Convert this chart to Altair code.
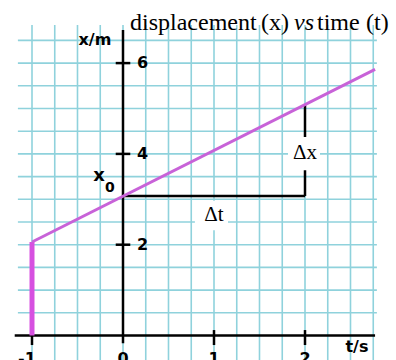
import altair as alt
import pandas as pd

# Axis ticks and labels
t_ticks = [-1, 1, 2]
t_labels = ["-1", "0", "1", "2"]
t_label_pos = [-1.055, 0.0, 1.0, 2.0]
x_ticks = [2, 4, 6]
x_labels = ["2", "4", "6"]

# Graph-paper grid: vertical lines every 0.25 s, horizontal every 0.5 m
grid_t = [-1.0, -0.75, -0.5, -0.25, 0.0, 0.25, 0.5, 0.75,
          1.0, 1.25, 1.5, 1.75, 2.0, 2.25, 2.5, 2.75]
grid_x = [0.5, 1.0, 1.5, 2.0, 2.5, 3.0, 3.5, 4.0, 4.5, 5.0, 5.5, 6.0, 6.5]

# Motion: jump to x = 2.06 m at t = -1 s, then uniform motion
jump_t = [-1.0, -1.0]
jump_x = [0.0, 2.06]
path_t = [-1.0, 2.77]
path_x = [2.06, 5.86]

# Slope triangle between t = 0 s and t = 2 s
delta_t = [0.0, 2.0]
delta_x = [3.07, 5.08]

# Title pieces (upright / italic) and their left edges along t
title_words = ["displacement", "(x)", "vs", "time", "(t)"]
title_italic = [False, False, True, False, False]
title_left = [0.077, 1.516, 1.879, 2.132, 2.670]

GRID = "#8fd2dc"
PINK = "#c862d8"
PINK2 = "#d650e0"
INK = "#000000"

X = alt.Scale(domain=[-123 / 91, 273 / 91], nice=False, zero=False)
Y = alt.Scale(domain=[-24.5 / 45.4, 335.5 / 45.4], nice=False, zero=False)


def seg(df, color, width):
    return alt.Chart(df).mark_rule(color=color, strokeWidth=width).encode(
        x=alt.X("t1:Q", scale=X, axis=None),
        x2="t2:Q",
        y=alt.Y("y1:Q", scale=Y, axis=None),
        y2="y2:Q",
    )


def label(df, text_col, font, size, weight="normal", style="normal",
          align="center", baseline="middle", dx=0):
    return alt.Chart(df).mark_text(
        font=font, fontSize=size, fontWeight=weight, fontStyle=style,
        align=align, baseline=baseline, color=INK, dx=dx,
    ).encode(
        x=alt.X("t:Q", scale=X, axis=None),
        y=alt.Y("y:Q", scale=Y, axis=None),
        text=f"{text_col}:N",
    )


vgrid = pd.DataFrame({"t1": grid_t, "t2": grid_t, "y1": -0.6, "y2": 6.84})
hgrid = pd.DataFrame({"t1": -1.155, "t2": 2.79, "y1": grid_x, "y2": grid_x})

axes = pd.DataFrame({
    "t1": [-1.19, 0.0], "t2": [2.77, 0.0],
    "y1": [0.0, -0.17], "y2": [0.0, 6.73],
})
tticks = pd.DataFrame({"t1": t_ticks, "t2": t_ticks, "y1": -0.21, "y2": 0.12})
xticks = pd.DataFrame({"t1": -0.08, "t2": 0.08, "y1": x_ticks, "y2": x_ticks})

triangle = pd.DataFrame({
    "t1": [delta_t[0], delta_t[1]], "t2": [delta_t[1], delta_t[1]],
    "y1": [delta_x[0], delta_x[0]], "y2": [delta_x[0], delta_x[1]],
})
# White patches behind the delta labels
patches = pd.DataFrame({
    "t1": [1.813, 0.79], "t2": [2.165, 1.154],
    "y1": [3.64, 2.32], "y2": [4.37, 2.97],
})

jump = pd.DataFrame({"t1": [jump_t[0]], "t2": [jump_t[1]],
                     "y1": [jump_x[0]], "y2": [jump_x[1]]})
path = pd.DataFrame({"t1": [path_t[0]], "t2": [path_t[1]],
                     "y1": [path_x[0]], "y2": [path_x[1]]})

white = alt.Chart(patches).mark_rect(color="white").encode(
    x=alt.X("t1:Q", scale=X, axis=None), x2="t2:Q",
    y=alt.Y("y1:Q", scale=Y, axis=None), y2="y2:Q",
)

SANS = "DejaVu Sans"
SERIF = "Liberation Serif"

ylab = pd.DataFrame({"t": 0.154, "y": x_ticks, "s": x_labels})
tlab = pd.DataFrame({"t": t_label_pos, "y": -0.34, "s": t_labels})
units = pd.DataFrame({"t": [-0.308, 2.571], "y": [6.51, -0.253],
                      "s": ["x/m", "t/s"]})
x0_main = pd.DataFrame({"t": [-0.264], "y": [3.52], "s": ["x"]})
x0_sub = pd.DataFrame({"t": [-0.143], "y": [3.25], "s": ["0"]})
deltas = pd.DataFrame({"t": [2.0, 1.0], "y": [4.02, 2.66], "s": ["Δx", "Δt"]})

upright = pd.DataFrame({
    "t": [p for p, it in zip(title_left, title_italic) if not it],
    "y": 6.73,
    "s": [w for w, it in zip(title_words, title_italic) if not it],
})
slanted = pd.DataFrame({
    "t": [p for p, it in zip(title_left, title_italic) if it],
    "y": 6.73,
    "s": [w for w, it in zip(title_words, title_italic) if it],
})

chart = alt.layer(
    seg(vgrid, GRID, 1.6),
    seg(hgrid, GRID, 1.6),
    seg(triangle, INK, 2.5),
    white,
    seg(axes, INK, 2.5),
    seg(tticks, INK, 2.5),
    seg(xticks, INK, 2.5),
    seg(jump, PINK2, 5),
    seg(path, PINK, 3),
    label(ylab, "s", SANS, 16, weight="bold", align="left"),
    label(tlab, "s", SANS, 16, weight="bold", baseline="top"),
    label(units, "s", SANS, 16, weight="bold"),
    label(x0_main, "s", SANS, 18, weight="bold"),
    label(x0_sub, "s", SANS, 14, weight="bold"),
    label(deltas, "s", SERIF, 21),
    label(upright, "s", SERIF, 24, align="left", baseline="alphabetic"),
    label(slanted, "s", SERIF, 24, style="italic", align="left", baseline="alphabetic"),
).properties(
    width=396, height=360,
    autosize=alt.AutoSizeParams(type="none"),
    padding=0,
).configure_view(stroke=None)

chart.save("out.html", embed_options={"renderer": "svg", "actions": False})
